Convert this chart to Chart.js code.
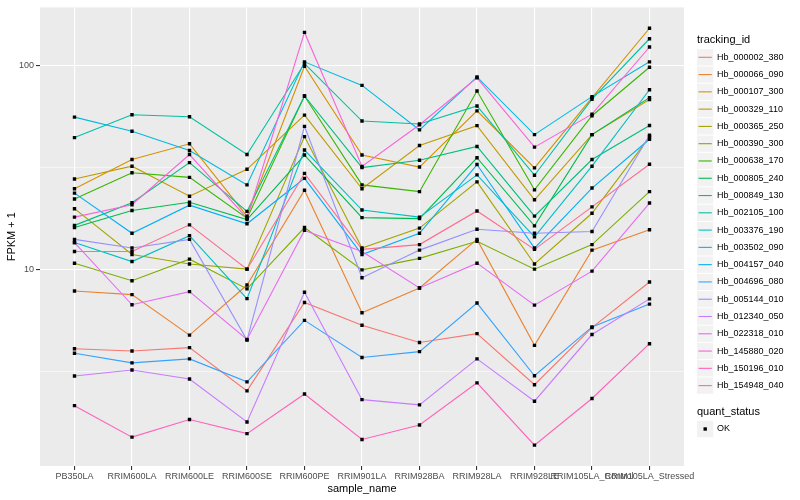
<!DOCTYPE html>
<html>
<head>
<meta charset="utf-8">
<script src="https://cdn.jsdelivr.net/npm/chart.js@4.4.0/dist/chart.umd.min.js"></script>
<style>
  html, body { margin: 0; padding: 0; background: #fff; }
</style>
</head>
<body>
<canvas id="chart" width="800" height="500"></canvas>
<script>
// categories on the x axis
const samples = ['PB350LA', 'RRIM600LA', 'RRIM600LE', 'RRIM600SE', 'RRIM600PE', 'RRIM901LA',
                 'RRIM928BA', 'RRIM928LA', 'RRIM928LE', 'RRIM105LA_Control', 'RRIM105LA_Stressed'];

const trackingIds = ['Hb_000002_380', 'Hb_000066_090', 'Hb_000107_300', 'Hb_000329_110', 'Hb_000365_250',
                     'Hb_000390_300', 'Hb_000638_170', 'Hb_000805_240', 'Hb_000849_130', 'Hb_002105_100',
                     'Hb_003376_190', 'Hb_003502_090', 'Hb_004157_040', 'Hb_004696_080', 'Hb_005144_010',
                     'Hb_012340_050', 'Hb_022318_010', 'Hb_145880_020', 'Hb_150196_010', 'Hb_154948_040'];

// FPKM + 1 per sample, one array per gene
const hb_000002_380 = [4.07, 3.97, 4.12, 2.53, 6.86, 5.31, 4.37, 4.83, 2.71, 5.17, 8.65];
const hb_000066_090 = [7.82, 7.50, 4.75, 8.36, 24.4, 6.11, 8.09, 14.0, 4.23, 12.4, 15.6];
const hb_000107_300 = [24.8, 34.5, 41.2, 18.2, 98.9, 36.3, 31.7, 59.8, 31.4, 69.4, 152];
const hb_000329_110 = [27.7, 32.0, 22.8, 30.9, 57.0, 24.8, 40.4, 50.6, 21.9, 45.7, 67.9];
const hb_000365_250 = [19.8, 11.8, 10.6, 10.0, 44.7, 12.7, 15.9, 26.8, 10.6, 18.8, 44.6];
const hb_000390_300 = [10.7, 8.78, 11.2, 8.0, 16.0, 9.92, 11.3, 13.7, 10.0, 13.2, 24.0];
const hb_000638_170 = [22.1, 29.7, 28.2, 17.8, 70.7, 25.9, 24.0, 74.8, 24.5, 56.6, 97.8];
const hb_000805_240 = [16.0, 19.4, 21.3, 17.5, 36.3, 17.9, 17.7, 35.2, 16.3, 45.7, 69.4];
const hb_000849_130 = [16.4, 21.2, 33.3, 19.2, 70.7, 31.5, 34.2, 40.0, 18.2, 34.5, 50.7];
const hb_002105_100 = [44.2, 57.2, 55.9, 36.5, 102, 53.3, 51.5, 63.2, 28.9, 68.2, 135];
const hb_003376_190 = [13.5, 10.9, 14.6, 7.17, 38.4, 19.5, 18.0, 29.0, 14.4, 32.0, 75.9];
const hb_003502_090 = [55.7, 47.5, 38.2, 25.9, 104, 79.7, 48.2, 87.7, 45.7, 70.2, 104];
const hb_004157_040 = [23.6, 15.0, 20.6, 16.7, 27.9, 11.8, 15.0, 32.6, 12.7, 25.0, 43.4];
const hb_004696_080 = [3.87, 3.47, 3.63, 2.80, 5.61, 3.69, 3.94, 6.82, 3.00, 5.21, 6.74];
const hb_005144_010 = [14.0, 12.7, 14.0, 4.49, 50.2, 9.07, 12.4, 15.7, 15.0, 15.3, 45.4];
const hb_012340_050 = [2.99, 3.20, 2.89, 1.78, 7.71, 2.29, 2.16, 3.63, 2.25, 4.78, 7.15];
const hb_022318_010 = [13.5, 6.69, 7.76, 4.52, 15.5, 12.2, 8.09, 10.7, 6.66, 9.78, 21.1];
const hb_145880_020 = [18.0, 20.7, 36.5, 17.8, 145, 31.9, 51.1, 86.8, 39.7, 57.6, 123];
const hb_150196_010 = [2.14, 1.50, 1.83, 1.56, 2.44, 1.46, 1.72, 2.77, 1.37, 2.32, 4.31];
const hb_154948_040 = [12.2, 12.2, 16.5, 10.0, 29.5, 12.5, 13.2, 19.3, 12.5, 20.2, 32.7];

const yTickValues = [10, 100];
const yMinorValues = [3.1623, 31.623];

const seriesValues = [hb_000002_380, hb_000066_090, hb_000107_300, hb_000329_110, hb_000365_250,
                      hb_000390_300, hb_000638_170, hb_000805_240, hb_000849_130, hb_002105_100,
                      hb_003376_190, hb_003502_090, hb_004157_040, hb_004696_080, hb_005144_010,
                      hb_012340_050, hb_022318_010, hb_145880_020, hb_150196_010, hb_154948_040];

// ggplot2 default hue palette for 20 levels
const colors = ['#F8766D', '#EA8331', '#D89000', '#C09B00', '#A3A500', '#7CAE00', '#39B600', '#00BB4E',
                '#00BF7D', '#00C1A3', '#00BFC4', '#00BAE0', '#00B0F6', '#35A2FF', '#9590FF', '#C77CFF',
                '#E76BF3', '#FA62DB', '#FF62BC', '#FF6C91'];

const FONT = '"Liberation Sans", Arial, Helvetica, sans-serif';

// y range like ggplot: 5% expansion in log space
const allValues = seriesValues.flat();
const lmin = Math.log10(Math.min(...allValues));
const lmax = Math.log10(Math.max(...allValues));
const lpad = (lmax - lmin) * 0.05;

const datasets = seriesValues.map((vals, i) => ({
    type: 'line',
    label: trackingIds[i],
    data: vals.map((v, j) => ({ x: j, y: v })),
    borderColor: colors[i],
    borderWidth: 1.1,
    pointRadius: 0,
    fill: false,
    tension: 0,
    order: 20 - i
}));

// the black points go on top of every line
datasets.push({
    type: 'scatter',
    label: 'OK',
    data: seriesValues.flatMap(vals => vals.map((v, j) => ({ x: j, y: v }))),
    backgroundColor: '#000',
    borderWidth: 0,
    pointStyle: 'rect',
    pointRadius: 2.4,
    order: 0
});

const ggDecor = {
    id: 'ggDecor',
    beforeDraw(chart) {
        const { ctx, chartArea: a } = chart;
        ctx.save();
        ctx.fillStyle = '#EBEBEB';
        ctx.fillRect(a.left, a.top, a.right - a.left, a.bottom - a.top);
        ctx.restore();
    },
    afterDraw(chart) {
        const { ctx, chartArea: a } = chart;
        ctx.save();
        ctx.fillStyle = '#000';
        ctx.textBaseline = 'middle';

        // axis titles
        ctx.font = '11px ' + FONT;
        ctx.textAlign = 'center';
        ctx.fillText('sample_name', (a.left + a.right) / 2, 489);
        ctx.save();
        ctx.translate(12, (a.top + a.bottom) / 2);
        ctx.rotate(-Math.PI / 2);
        ctx.fillText('FPKM + 1', 0, 0);
        ctx.restore();

        // tracking_id legend
        ctx.textAlign = 'left';
        ctx.fillText('tracking_id', 697, 40);
        const keyX = 697, keySize = 17.28, firstY = 57.3;
        trackingIds.forEach((id, i) => {
            const cy = firstY + i * keySize;
            ctx.fillStyle = '#F2F2F2';
            ctx.fillRect(keyX, cy - keySize / 2 + 0.5, keySize - 1, keySize - 1);
            ctx.strokeStyle = colors[i];
            ctx.lineWidth = 1.1;
            ctx.beginPath();
            ctx.moveTo(keyX + 1.5, cy);
            ctx.lineTo(keyX + keySize - 2.5, cy);
            ctx.stroke();
            ctx.fillStyle = '#000';
            ctx.font = '9px ' + FONT;
            ctx.fillText(id, 717, cy);
        });

        // quant_status legend
        ctx.font = '11px ' + FONT;
        ctx.fillText('quant_status', 697, 412);
        ctx.fillStyle = '#F2F2F2';
        ctx.fillRect(keyX, 429 - keySize / 2 + 0.5, keySize - 1, keySize - 1);
        ctx.fillStyle = '#000';
        ctx.fillRect(keyX + 6.5, 427.3, 3.4, 3.4);
        ctx.font = '9px ' + FONT;
        ctx.fillText('OK', 717, 429);
        ctx.restore();
    }
};

new Chart(document.getElementById('chart'), {
    type: 'line',
    data: { datasets },
    options: {
        responsive: false,
        animation: false,
        layout: { padding: { top: 5, right: 116, left: 0, bottom: 0 } },
        plugins: { legend: { display: false }, tooltip: { enabled: false } },
        scales: {
            x: {
                type: 'linear',
                min: -0.6,
                max: samples.length - 1 + 0.6,
                afterBuildTicks: (axis) => { axis.ticks = samples.map((s, i) => ({ value: i })); },
                afterFit: (axis) => { axis.height = 34; },
                ticks: {
                    callback: (v) => samples[v],
                    autoSkip: false,
                    maxRotation: 0,
                    minRotation: 0,
                    padding: 1,
                    color: '#4D4D4D',
                    font: { family: FONT, size: 9 }
                },
                grid: { color: '#FFFFFF', lineWidth: 1.1, tickLength: 4, tickColor: '#333333' },
                border: { display: false }
            },
            y: {
                type: 'logarithmic',
                min: Math.pow(10, lmin - lpad),
                max: Math.pow(10, lmax + lpad),
                afterBuildTicks: (axis) => {
                    axis.ticks = yMinorValues.concat(yTickValues).sort((p, q) => p - q).map(v => ({ value: v }));
                },
                afterFit: (axis) => { axis.width = 40; },
                ticks: {
                    callback: (v) => (yTickValues.includes(v) ? String(v) : ''),
                    padding: 2,
                    color: '#4D4D4D',
                    font: { family: FONT, size: 9 }
                },
                grid: {
                    color: '#FFFFFF',
                    lineWidth: (c) => (c.tick && yTickValues.includes(c.tick.value) ? 1.1 : 0.55),
                    tickLength: 4,
                    tickColor: (c) => (c.tick && yTickValues.includes(c.tick.value) ? '#333333' : 'rgba(0,0,0,0)')
                },
                border: { display: false }
            }
        }
    },
    plugins: [ggDecor]
});
</script>
</body>
</html>
